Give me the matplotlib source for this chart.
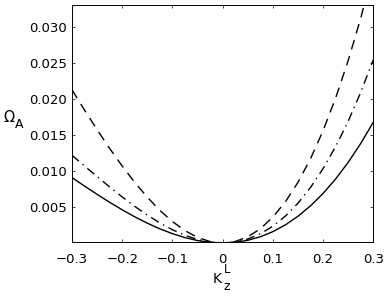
import matplotlib
matplotlib.use("Agg")
import matplotlib.pyplot as plt

# wave vector K_z^L
kz = [-0.3, -0.275, -0.25, -0.225, -0.2, -0.175, -0.15, -0.125, -0.1, -0.075,
      -0.05, -0.025, 0.0, 0.025, 0.05, 0.075, 0.1, 0.125, 0.15, 0.175,
      0.2, 0.225, 0.25, 0.275, 0.3]

# Omega_A for the three cases
omega_solid = [0.00910, 0.00792, 0.00677, 0.00566, 0.00462, 0.00364, 0.00276,
               0.00197, 0.00130, 0.00075, 0.00034, 0.00009, 0.0, 0.00009,
               0.00038, 0.00087, 0.00158, 0.00253, 0.00372, 0.00517, 0.00690,
               0.00891, 0.01122, 0.01385, 0.01680]
omega_dashdot = [0.01220, 0.01071, 0.00924, 0.00780, 0.00641, 0.00509, 0.00388,
                 0.00279, 0.00185, 0.00107, 0.00049, 0.00013, 0.0, 0.00014,
                 0.00056, 0.00128, 0.00234, 0.00375, 0.00554, 0.00773, 0.01035,
                 0.01341, 0.01694, 0.02096, 0.02550]
omega_dashed = [0.02130, 0.01848, 0.01576, 0.01315, 0.01070, 0.00843, 0.00637,
                0.00454, 0.00298, 0.00172, 0.00078, 0.00020, 0.0, 0.00021,
                0.00086, 0.00198, 0.00360, 0.00574, 0.00844, 0.01173, 0.01563,
                0.02017, 0.02538, 0.03129, 0.03794]

xticks = [-0.3, -0.2, -0.1, 0.0, 0.1, 0.2, 0.3]
xtick_labels = ["\u22120.3", "\u22120.2", "\u22120.1", "0", "0.1", "0.2", "0.3"]
yticks = [0.005, 0.010, 0.015, 0.020, 0.025, 0.030]
ytick_labels = ["0.005", "0.010", "0.015", "0.020", "0.025", "0.030"]

plt.rcParams["font.family"] = "DejaVu Sans"
plt.rcParams["font.size"] = 9.5

fig = plt.figure(figsize=(3.9, 2.99), dpi=100)
ax = fig.add_axes([0.1846, 0.1906, 0.7726, 0.7927])

ax.plot(kz, omega_solid, color="black", linewidth=1.0, linestyle="-")
ax.plot(kz, omega_dashdot, color="black", linewidth=1.0,
        linestyle=(0, (6.5, 3.5, 1, 3.5)))
ax.plot(kz, omega_dashed, color="black", linewidth=1.0, linestyle=(0, (7, 5)))

ax.set_xlim(-0.3, 0.3)
ax.set_ylim(0.00014, 0.0331)
ax.set_xticks(xticks)
ax.set_xticklabels(xtick_labels)
ax.set_yticks(yticks)
ax.set_yticklabels(ytick_labels)

ax.tick_params(direction="in", length=2.5, width=0.5, top=True, right=True)
ax.tick_params(axis="x", pad=8)
ax.tick_params(axis="y", pad=3.5)
for s in ax.spines.values():
    s.set_linewidth(0.7)

# axis labels with full-size sub/superscripts, as in the original
fig.text(0.008, 0.592, "\u03a9", fontsize=10.5, va="baseline", ha="left")
fig.text(0.039, 0.572, "A", fontsize=9, va="baseline", ha="left")

fig.text(0.546, 0.0535, "K", fontsize=10, va="baseline", ha="left")
fig.text(0.574, 0.086, "L", fontsize=8.5, va="baseline", ha="left")
fig.text(0.574, 0.030, "z", fontsize=9, va="baseline", ha="left")

plt.savefig("out.png", dpi=100)
plt.close()
